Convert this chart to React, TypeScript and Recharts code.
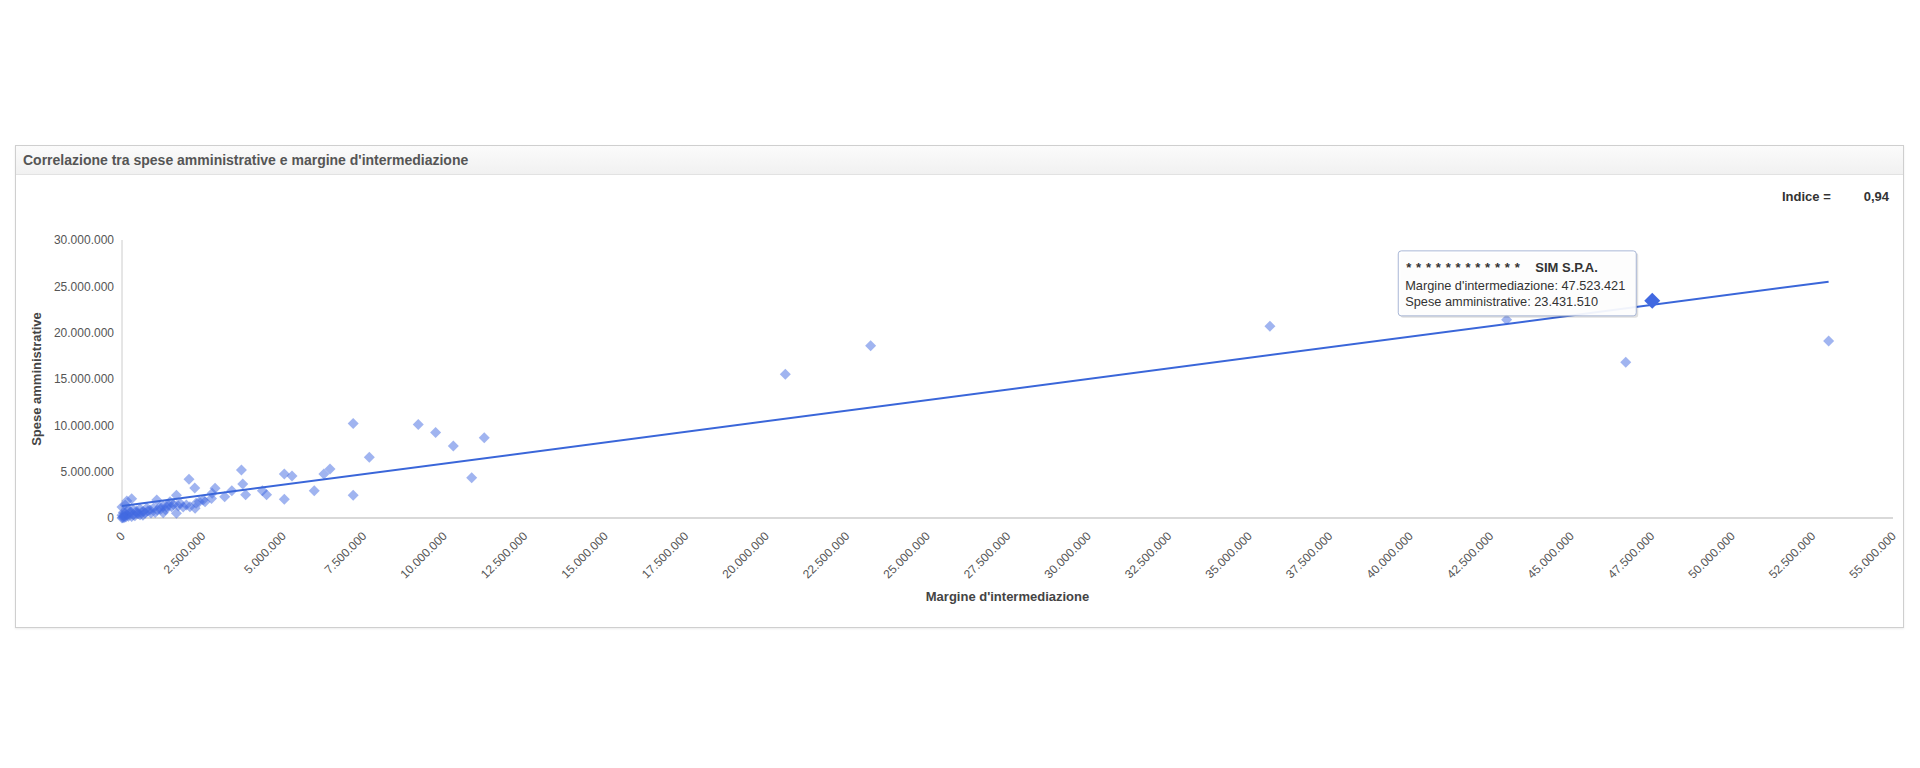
import React from 'react'
import { ScatterChart, Scatter, XAxis, YAxis, Label } from 'recharts'

// Margine d'intermediazione (x) / Spese amministrative (y), values in euro
const margineIntermediazione = [
  20600000, 23250000, 35650000, 43000000, 46700000, 53000000,
  7180000, 9200000, 9740000, 10290000, 11250000, 10860000, 7680000, 7180000,
  6460000, 6270000, 5970000, 5040000, 5280000, 5040000, 4490000, 4360000,
  3710000, 3750000, 3840000, 3410000, 3190000, 2890000, 2800000, 2520000,
  2080000, 2260000, 1690000, 1690000, 2000000, 2110000, 1800000, 1490000,
  1280000, 1080000, 1280000, 1180000, 870000, 660000, 560000, 300000,
  150000, 100000, 0, 0, 50000, 150000, 250000, 350000, 460000, 100000,
  200000, 350000, 560000, 720000, 770000, 980000, 1030000, 1380000, 1540000,
  2270000, 2580000, 2780000, 20000, 80000, 120000, 200000, 300000, 400000,
  500000, 600000, 450000, 250000, 650000, 800000, 900000, 1100000, 1200000,
  1350000, 1450000, 1600000, 1750000, 1900000, 2300000, 2400000, 40000, 0, 60000,
]
const speseAmministrative = [
  15500000, 18600000, 20700000, 21400000, 16800000, 19100000,
  10200000, 10100000, 9240000, 7770000, 8660000, 4350000, 6550000, 2450000,
  5290000, 4750000, 2950000, 4750000, 4530000, 2010000, 2520000, 2950000,
  5180000, 3670000, 2520000, 2950000, 2300000, 3200000, 2660000, 1940000,
  4170000, 3240000, 2450000, 500000, 1400000, 1220000, 1580000, 1760000,
  1290000, 1940000, 570000, 1200000, 860000, 700000, 1000000, 2080000,
  1830000, 1400000, 1180000, 0, 250000, 350000, 550000, 350000, 550000, 500000,
  900000, 900000, 350000, 550000, 1080000, 1080000, 600000, 1220000, 1220000,
  1050000, 1760000, 2100000, 50000, 150000, 100000, 200000, 150000, 250000,
  450000, 600000, 750000, 700000, 300000, 750000, 550000, 850000, 950000,
  900000, 1350000, 1450000, 1300000, 1200000, 1600000, 1750000, 600000, 300000, 20000,
]

// selected company (tooltip)
const selectedName = 'SIM S.P.A.'
const selectedMargine = [47523421]
const selectedSpese = [23431510]

// linear trend line
const trendX = [0, 53000000]
const trendY = [1300000, 25500000]

const xTicks = [
  0, 2500000, 5000000, 7500000, 10000000, 12500000, 15000000, 17500000, 20000000,
  22500000, 25000000, 27500000, 30000000, 32500000, 35000000, 37500000, 40000000,
  42500000, 45000000, 47500000, 50000000, 52500000, 55000000,
]
const yTicks = [0, 5000000, 10000000, 15000000, 20000000, 25000000, 30000000]
const indice = '0,94'

const points = margineIntermediazione.map((x, i) => ({ x, y: speseAmministrative[i] }))
const selected = selectedMargine.map((x, i) => ({ x, y: selectedSpese[i] }))
const trend = trendX.map((x, i) => ({ x, y: trendY[i] }))

const fmt = (v: number) => String(Math.round(v)).replace(/\B(?=(\d{3})+(?!\d))/g, '.')

const FONT = '"Liberation Sans", Arial, sans-serif'
const BLUE = '#4169e1'

const Diamond = ({ cx, cy, fill, fillOpacity }: any) => (
  <polygon
    points={`${cx},${cy - 5.5} ${cx + 5.5},${cy} ${cx},${cy + 5.5} ${cx - 5.5},${cy}`}
    fill={fill}
    fillOpacity={fillOpacity}
  />
)

const SelectedPoint = ({ cx, cy, payload }: any) => (
  <g>
    <polygon
      points={`${cx},${cy - 8} ${cx + 8},${cy} ${cx},${cy + 8} ${cx - 8},${cy}`}
      fill={BLUE}
    />
    <rect x={cx - 252} y={cy - 48} width={238} height={65} rx={3} fill="#000" fillOpacity={0.12} />
    <rect x={cx - 254} y={cy - 50} width={238} height={65} rx={3} fill="#fff" fillOpacity={0.93} stroke="#a9b7d6" />
    <g fontFamily={FONT} fill="#333">
      <text x={cx - 246} y={cy - 29} fontSize={13} fontWeight="bold" letterSpacing={4.8}>************</text>
      <text x={cx - 117} y={cy - 29} fontSize={13} fontWeight="bold">{selectedName}</text>
      <text x={cx - 247} y={cy - 11} fontSize={12.75}>Margine d'intermediazione: {fmt(payload.x)}</text>
      <text x={cx - 247} y={cy + 5.5} fontSize={12.75}>Spese amministrative: {fmt(payload.y)}</text>
    </g>
  </g>
)

const XTick = ({ x, y, payload }: any) => {
  const ax = x + 1
  const ay = y + 8
  return (
    <text
      x={ax}
      y={ay}
      dy={4}
      transform={`rotate(-45 ${ax} ${ay})`}
      textAnchor="end"
      fontSize={12}
      fontFamily={FONT}
      fill="#555"
    >
      {fmt(payload.value)}
    </text>
  )
}

export default function App() {
  return (
    <div style={{ position: 'relative', width: 1904, height: 752, fontFamily: FONT }}>
      <div
        style={{
          position: 'absolute', left: 7, top: 137, width: 1889, height: 483,
          boxSizing: 'border-box', border: '1px solid #cfcfcf', background: '#fff',
          boxShadow: '0 1px 2px rgba(0,0,0,0.08)',
        }}
      >
        <div
          style={{
            position: 'absolute', left: 0, top: 0, right: 0, height: 28,
            background: 'linear-gradient(#fbfbfb, #f1f1f1)', borderBottom: '1px solid #e2e2e2',
            fontSize: 14, fontWeight: 'bold', color: '#555', lineHeight: '28px', paddingLeft: 7,
          }}
        >
          Correlazione tra spese amministrative e margine d'intermediazione
        </div>
        <div style={{ position: 'absolute', left: 1766, top: 43, fontSize: 13, fontWeight: 'bold', color: '#333' }}>
          Indice =
        </div>
        <div style={{ position: 'absolute', right: 14, top: 43, fontSize: 13, fontWeight: 'bold', color: '#333' }}>
          {indice}
        </div>
        <div style={{ position: 'absolute', left: 0, top: 28 }}>
          <ScatterChart width={1887} height={452} margin={{ top: 66, right: 10, bottom: 22, left: 12 }}>
            <XAxis
              type="number"
              dataKey="x"
              domain={[0, 55000000]}
              ticks={xTicks}
              interval={0}
              height={86}
              tickLine={false}
              axisLine={{ stroke: '#d9d9d9', strokeWidth: 2 }}
              tick={<XTick />}
            >
              <Label
                content={({ viewBox }: any) => (
                  <text
                    x={viewBox.x + viewBox.width / 2}
                    y={viewBox.y + 83}
                    textAnchor="middle"
                    fontSize={13}
                    fontWeight="bold"
                    fontFamily={FONT}
                    fill="#444"
                  >
                    Margine d'intermediazione
                  </text>
                )}
              />
            </XAxis>
            <YAxis
              type="number"
              dataKey="y"
              domain={[0, 30000000]}
              ticks={yTicks}
              interval={0}
              width={94}
              tickLine={false}
              axisLine={{ stroke: '#cccccc' }}
              tickFormatter={fmt}
              tick={{ fontSize: 12, fill: '#555', fontFamily: FONT }}
            >
              <Label
                content={({ viewBox }: any) => {
                  const x = viewBox.x + 13
                  const y = viewBox.y + viewBox.height / 2
                  return (
                    <text
                      x={x}
                      y={y}
                      transform={`rotate(-90 ${x} ${y})`}
                      textAnchor="middle"
                      fontSize={13}
                      fontWeight="bold"
                      fontFamily={FONT}
                      fill="#444"
                    >
                      Spese amministrative
                    </text>
                  )
                }}
              />
            </YAxis>
            <Scatter data={points} fill={BLUE} fillOpacity={0.5} shape={<Diamond />} isAnimationActive={false} />
            <Scatter
              data={trend}
              fill="#3a66d9"
              line={{ stroke: '#3a66d9', strokeWidth: 2 }}
              shape={() => <g />}
              isAnimationActive={false}
            />
            <Scatter data={selected} fill={BLUE} shape={<SelectedPoint />} isAnimationActive={false} />
          </ScatterChart>
        </div>
      </div>
    </div>
  )
}
